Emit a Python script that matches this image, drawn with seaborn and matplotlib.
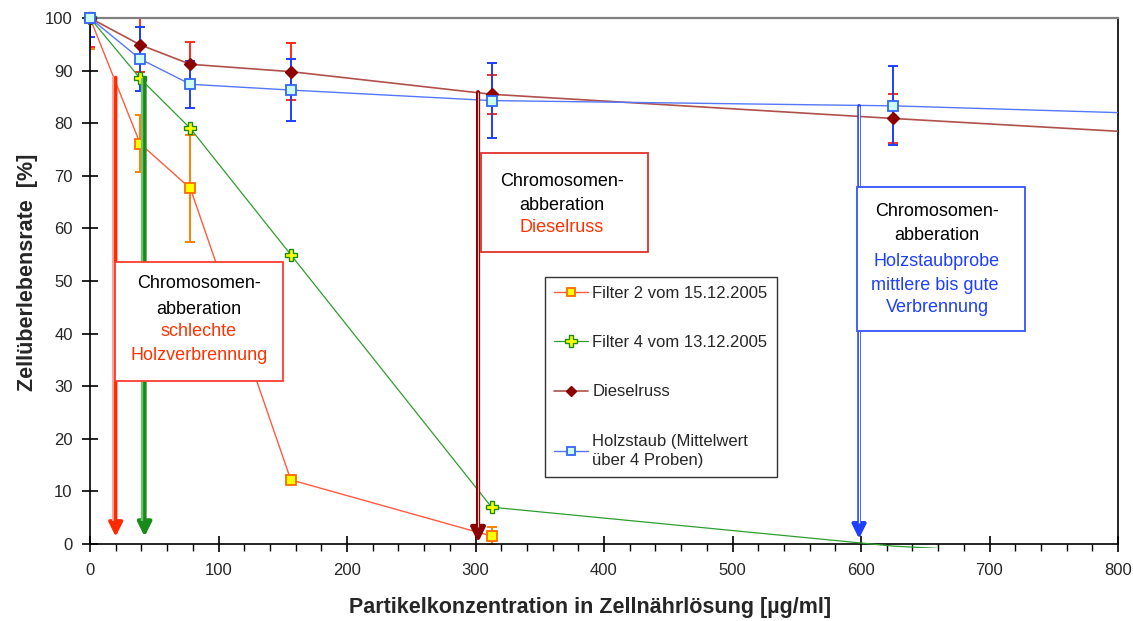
import matplotlib
matplotlib.use("Agg")
import numpy as np
import pandas as pd
import matplotlib.pyplot as plt
import seaborn as sns
from matplotlib.lines import Line2D
from matplotlib.patches import Rectangle
from matplotlib.ticker import MultipleLocator
from matplotlib.transforms import offset_copy

# Particle concentrations of the dilution series [µg/ml]
conc = [0, 39.06, 78.125, 156.25, 312.5, 625, 1250]

# Cell survival rate [%] and standard deviation per sample
filter2_y = [100, 76.1, 67.6, 12.2, 1.5]
filter2_err = [5.8, 5.4, 10.1, 0.5, 1.7]
filter4_y = [100, 88.5, 79.0, 55.0, 7.0, -0.4, -8.3]
diesel_y = [100, 94.9, 91.2, 89.8, 85.5, 80.9, 72.2]
diesel_err = [5.5, 5.2, 4.3, 5.4, 3.7, 4.6]
holz_y = [100, 92.2, 87.4, 86.3, 84.3, 83.3, 78.7]
holz_err = [3.7, 6.0, 4.5, 5.9, 7.2, 7.5]

labels = ["Filter 2 vom 15.12.2005", "Filter 4 vom 13.12.2005",
          "Dieselruss", "Holzstaub (Mittelwert\nüber 4 Proben)"]

# Onset of chromosome aberration: x position, arrow start and tip
arrow_x = [20, 42.5, 302, 598.5]
arrow_top = [88.7, 88.6, 85.9, 83.3]
arrow_tip = [1.4, 1.4, 0.3, 1.0]

x_ticks = list(range(0, 801, 100))
y_ticks = list(range(0, 101, 10))

sns.set_theme(style="white")
plt.rcParams["font.family"] = ["Liberation Sans", "DejaVu Sans"]

W, H = 1133, 621
fig = plt.figure(figsize=(W / 100, H / 100), dpi=100)
L, R, T, B = 90, 1118, 18, 544
ax = fig.add_axes([L / W, 1 - B / H, (R - L) / W, (B - T) / H])


def px(x, y):
    """pixel position -> axes fraction"""
    return (x - L) / (R - L), (B - y) / (B - T)


df = pd.DataFrame({
    "conc": conc[:len(filter2_y)] + conc + conc + conc,
    "rate": filter2_y + filter4_y + diesel_y + holz_y,
    "probe": [labels[0]] * len(filter2_y) + [labels[1]] * len(conc)
             + [labels[2]] * len(conc) + [labels[3]] * len(conc),
})

styles = {
    labels[0]: dict(color="#FF5A40", marker="s", mfc="#FFFF00", mec="#FF6A00", ms=7, mew=1.3, lw=1.0),
    labels[1]: dict(color="#2E9E2E", marker="P", mfc="#FFFF00", mec="#1A8A1A", ms=9, mew=1.0, lw=0.9),
    labels[2]: dict(color="#B0504A", marker="D", mfc="#8B0000", mec="#8B0000", ms=6, mew=1.0, lw=1.2),
    labels[3]: dict(color="#5577FF", marker="s", mfc="#CCFFEE", mec="#3366FF", ms=7, mew=1.3, lw=1.0),
}
visible_points = {labels[0]: [0, 1, 2, 3, 4], labels[1]: [0, 1, 2, 3, 4],
                  labels[2]: [0, 1, 2, 3, 4, 5], labels[3]: [0, 1, 2, 3, 4, 5]}

# error bars
ax.errorbar(conc[:len(filter2_y)], filter2_y, yerr=filter2_err, fmt="none",
            ecolor="#FF8000", elinewidth=1.4, capsize=3.5, capthick=1.4, zorder=2)
ax.errorbar(conc[:len(diesel_err)], diesel_y[:len(diesel_err)], yerr=diesel_err, fmt="none",
            ecolor="#FF2B1A", elinewidth=1.4, capsize=3.5, capthick=1.4, zorder=2)
ax.errorbar(conc[:len(holz_err)], holz_y[:len(holz_err)], yerr=holz_err, fmt="none",
            ecolor="#1F3FFF", elinewidth=1.4, capsize=3.5, capthick=1.4, zorder=2)

for name in labels:
    st = styles[name]
    n_before = len(ax.lines)
    sns.lineplot(data=df[df["probe"] == name], x="conc", y="rate", ax=ax,
                 sort=False, estimator=None, color=st["color"], lw=st["lw"],
                 marker=st["marker"], markerfacecolor=st["mfc"], markeredgecolor=st["mec"],
                 markersize=st["ms"], markeredgewidth=st["mew"],
                 markevery=visible_points[name], legend=False, zorder=3)
    for ln in ax.lines[n_before:]:
        ln.set_clip_path(Rectangle((-0.012, -0.0085), 1.012, 1.021, transform=ax.transAxes))

# aberration arrows: dark shaft + filled head, light stripe along the shaft
arrow_colors = [  # dark, light, shaft width, stripe offset (px), stripe width
    ("#FF2A00", "#FFA898", 2.5, -2.4, 1.5),
    ("#1A8A1A", "#70C070", 2.9, -2.6, 1.7),
    ("#8B0000", "#E8C8C8", 3.0, 0.0, 0.8),
    ("#1F3FFF", "#FFFFFF", 2.6, 0.0, 0.9),
]
for xa, yt, yb, (dark, light, lw, off, lw2) in zip(arrow_x, arrow_top, arrow_tip, arrow_colors):
    ax.annotate("", xy=(xa, yb), xytext=(xa, yt),
                arrowprops=dict(arrowstyle="-|>,head_width=0.42,head_length=0.85",
                                color=dark, lw=lw, shrinkA=0, shrinkB=0, mutation_scale=10),
                zorder=4)
    tr = offset_copy(ax.transData, fig=fig, x=off, y=0, units="dots")
    ax.plot([xa, xa], [yt, yb + 3.0], color=light, lw=lw2, transform=tr,
            solid_capstyle="butt", zorder=4.1)

# annotation boxes
red_txt = "#FF3300"
blue_txt = "#1F3FFF"
boxes = [
    ((115, 262, 283, 381), "#FF3B2F", 199,
     [("Chromosomen-", "black", 283), ("abberation", "black", 309),
      ("schlechte", red_txt, 332), ("Holzverbrennung", red_txt, 356)]),
    ((481, 153, 648, 252), "#E0302A", 562,
     [("Chromosomen-", "black", 181), ("abberation", "black", 205),
      ("Dieselruss", red_txt, 228)]),
    ((857, 187, 1025, 331), "#3355FF", 937,
     [("Chromosomen-", "black", 212), ("abberation", "black", 235),
      ("Holzstaubprobe", blue_txt, 261), ("mittlere bis gute ", blue_txt, 285),
      ("Verbrennung", blue_txt, 307)]),
]
for (x0, y0, x1, y1), ec, cx, lines in boxes:
    ax0, ay1 = px(x0, y1)
    ax1, ay0 = px(x1, y0)
    ax.add_patch(Rectangle((ax0, ay1), ax1 - ax0, ay0 - ay1, transform=ax.transAxes,
                           facecolor="white", edgecolor=ec, lw=1.3, zorder=5))
    for txt, col, yy in lines:
        tx, ty = px(cx, yy)
        ax.text(tx, ty, txt, color=col, fontsize=13, ha="center", va="center",
                transform=ax.transAxes, zorder=6)

# legend
handles = [Line2D([0], [0], color=styles[n]["color"], lw=styles[n]["lw"], marker=styles[n]["marker"],
                  markerfacecolor=styles[n]["mfc"], markeredgecolor=styles[n]["mec"],
                  markersize=styles[n]["ms"] - 1, markeredgewidth=styles[n]["mew"]) for n in labels]
leg = ax.legend(handles, labels, loc="upper left", bbox_to_anchor=(545 / W, 1 - 277 / H),
                bbox_transform=fig.transFigure, borderaxespad=0, frameon=True, fancybox=False,
                fontsize=12, labelspacing=2.05, handlelength=2.0, handletextpad=0.3,
                borderpad=0.55)
leg.get_texts()[3].set_linespacing(1.35)
leg.get_frame().set_edgecolor("black")
leg.get_frame().set_linewidth(1.0)
leg.set_zorder(7)

# axes
ax.set_xlim(0, 800)
ax.set_ylim(0, 100)
ax.set_xticks(x_ticks)
ax.set_yticks(y_ticks)
ax.xaxis.set_minor_locator(MultipleLocator(20))
ax.tick_params(axis="both", which="major", direction="inout", length=11, width=1.2,
               color="black", labelsize=12, bottom=True, left=True)
ax.tick_params(axis="x", which="minor", direction="out", length=5, width=1.0,
               color="black", bottom=True)
ax.tick_params(axis="x", which="major", pad=8)
ax.tick_params(axis="y", which="major", pad=7)
for s in ["left", "bottom", "right"]:
    ax.spines[s].set_color("black")
    ax.spines[s].set_linewidth(1.2)
ax.spines["top"].set_color("#808080")
ax.spines["top"].set_linewidth(1.6)

ax.set_xlabel("Partikelkonzentration in Zellnährlösung [µg/ml]", fontsize=15.5,
              fontweight="bold", labelpad=14)
ax.set_ylabel("Zellüberlebensrate  [%]", fontsize=15.5, fontweight="bold", labelpad=5)
ax.xaxis.label.set_x(0.4864)
ax.yaxis.label.set_y(0.517)

fig.savefig("out.png", dpi=100)
